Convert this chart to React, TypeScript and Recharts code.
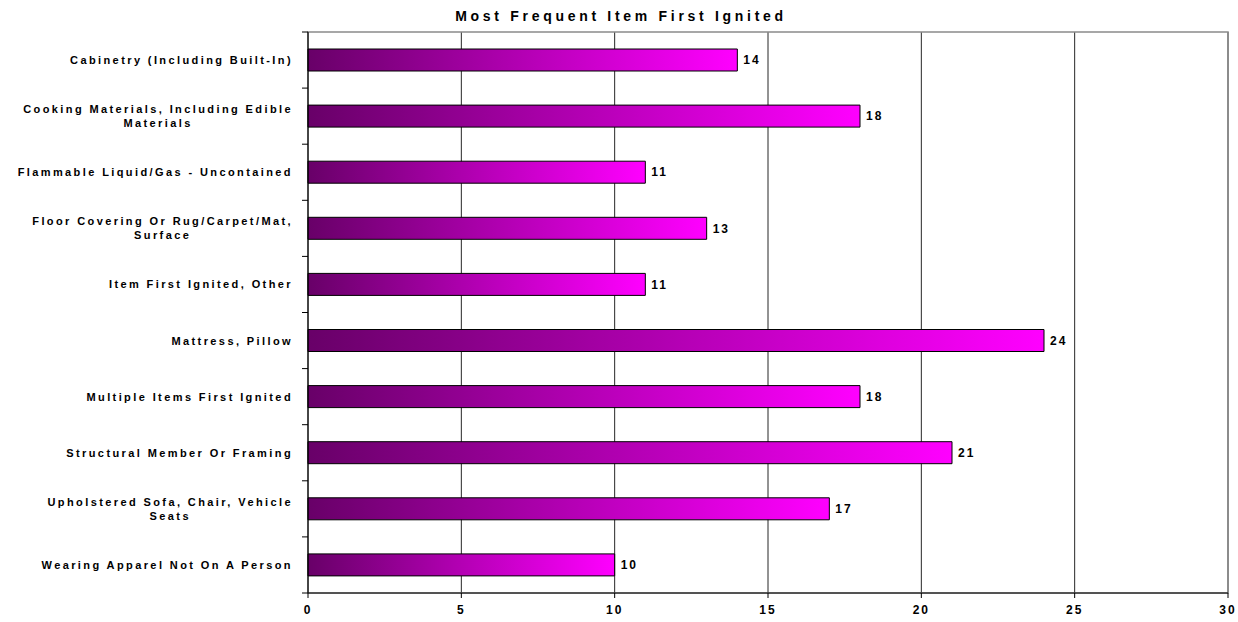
import React from "react";
import { BarChart, Bar, XAxis, YAxis, CartesianGrid, LabelList, ReferenceArea } from "recharts";

const categories: string[] = [
  "Cabinetry (Including Built-In)",
  "Cooking Materials, Including Edible\nMaterials",
  "Flammable Liquid/Gas - Uncontained",
  "Floor Covering Or Rug/Carpet/Mat,\nSurface",
  "Item First Ignited, Other",
  "Mattress, Pillow",
  "Multiple Items First Ignited",
  "Structural Member Or Framing",
  "Upholstered Sofa, Chair, Vehicle\nSeats",
  "Wearing Apparel Not On A Person",
];
const counts: number[] = [14, 18, 11, 13, 11, 24, 18, 21, 17, 10];
const xTicks: number[] = [0, 5, 10, 15, 20, 25, 30];
const title = "Most Frequent Item First Ignited";

const data = categories.map((c, i) => ({ name: c, value: counts[i] }));

const FONT = "'Liberation Sans', Arial, sans-serif";
const BAND = 561 / categories.length;
const LBL_SIZE = 11;
const LBL_LS = 2.4;

let measureCtx: CanvasRenderingContext2D | null = null;
function measure(t: string): number {
  if (!measureCtx) {
    const c = document.createElement("canvas");
    measureCtx = c.getContext("2d");
  }
  if (!measureCtx) return t.length * 8;
  measureCtx.font = `bold ${LBL_SIZE}px 'Liberation Sans'`;
  return measureCtx.measureText(t).width + t.length * LBL_LS;
}

const YTick = (props: any) => {
  const { x, y, payload, index } = props;
  const lines: string[] = String(payload.value).split("\n");
  const axisX = x + 15;
  const w0 = measure(lines[0]);
  const isLast = index === categories.length - 1;
  const common = {
    fontSize: LBL_SIZE,
    fontWeight: "bold" as const,
    fontFamily: FONT,
    letterSpacing: LBL_LS,
    fill: "#000",
  };
  return (
    <g>
      <line x1={axisX - 6} x2={axisX} y1={y - BAND / 2} y2={y - BAND / 2} stroke="#000" />
      {isLast && <line x1={axisX - 6} x2={axisX} y1={y + BAND / 2} y2={y + BAND / 2} stroke="#000" />}
      {lines.length === 1 ? (
        <text x={x} y={y} dy={4} textAnchor="end" {...common}>
          {lines[0]}
        </text>
      ) : (
        lines.map((l, i) => (
          <text
            key={i}
            x={i === 0 ? x : x - w0 / 2}
            y={y + (i === 0 ? -7 : 7)}
            dy={4}
            textAnchor={i === 0 ? "end" : "middle"}
            {...common}
          >
            {l}
          </text>
        ))
      )}
    </g>
  );
};

export default function App() {
  return (
    <div style={{ position: "absolute", left: 0, top: 0, width: 1238, height: 622, background: "#fff", overflow: "hidden" }}>
      <div
        style={{
          position: "absolute",
          left: 2,
          top: 8,
          width: 1238,
          textAlign: "center",
          fontFamily: FONT,
          fontWeight: "bold",
          fontSize: 14,
          letterSpacing: 3.7,
          lineHeight: "16px",
        }}
      >
        {title}
      </div>
      <BarChart
        width={1238}
        height={622}
        data={data}
        layout="vertical"
        margin={{ top: 32, right: 10, bottom: 0, left: 0 }}
        barCategoryGap={0}
      >
        <defs>
          <linearGradient id="barGrad" x1="0" y1="0" x2="1" y2="0">
            <stop offset="0%" stopColor="#680068" />
            <stop offset="100%" stopColor="#FF00FF" />
          </linearGradient>
        </defs>
        <CartesianGrid horizontal={false} vertical={true} stroke="#000" strokeOpacity={0.85} />
        <ReferenceArea x1={0} x2={30} fill="none" stroke="#8a8a8a" strokeWidth={1.5} ifOverflow="visible" />
        <XAxis
          type="number"
          domain={[0, 30]}
          ticks={xTicks}
          interval={0}
          height={29}
          axisLine={{ stroke: "#000" }}
          tickLine={{ stroke: "#000" }}
          tickSize={5}
          tickMargin={7}
          tick={{ fontSize: 12, fontWeight: "bold", fontFamily: FONT, fill: "#000", letterSpacing: 2 }}
        />
        <YAxis
          type="category"
          dataKey="name"
          width={308}
          interval={0}
          axisLine={{ stroke: "#000" }}
          tickLine={false}
          tickSize={6}
          tickMargin={9}
          tick={<YTick />}
        />
        <Bar dataKey="value" fill="url(#barGrad)" stroke="#000" strokeWidth={1} barSize={22} isAnimationActive={false}>
          <LabelList
            dataKey="value"
            position="right"
            offset={6}
            style={{ fontSize: 12, fontWeight: "bold", fontFamily: FONT, fill: "#000", letterSpacing: 2 }}
          />
        </Bar>
      </BarChart>
    </div>
  );
}
